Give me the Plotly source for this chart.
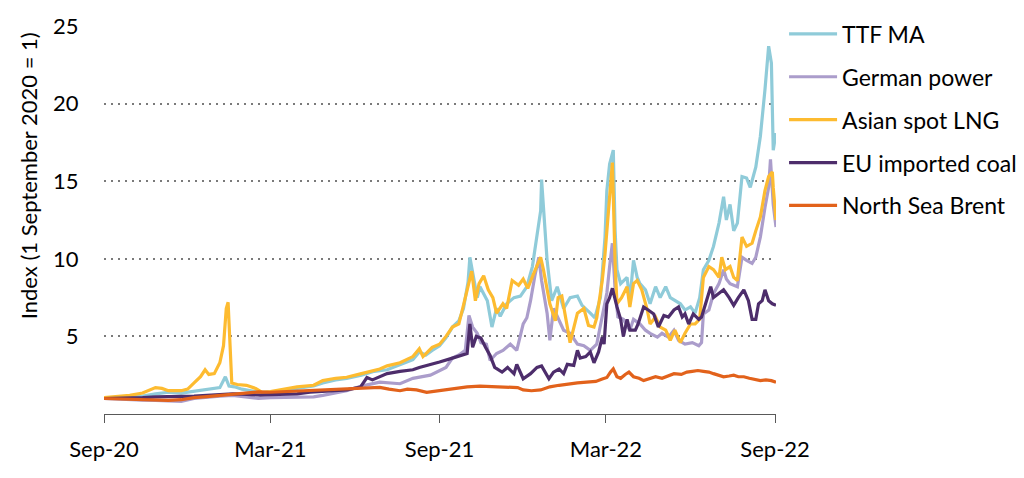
import pandas as pd
import plotly.graph_objects as go

START = "2020-09-01"

# ---- data: (days since 1 Sep 2020, index value) per series ----
ttf_days = [0, 14, 28, 42, 56, 70, 84, 98, 112, 126, 132, 136, 142, 150, 160, 170, 181,
            195, 210, 228, 238, 252, 264, 280, 294, 308, 322, 336, 343, 350, 357, 365, 372, 379, 386, 391, 396,
            398, 406, 409, 417, 422, 427, 431, 438, 446, 453, 460, 466, 471, 475, 476, 479, 482, 487, 493,
            500, 507, 515, 520, 529, 534, 540, 545, 547, 550, 554, 556, 558, 562, 569, 572, 576, 580, 583,
            589, 594, 600, 605, 611, 616, 621, 627, 632, 638, 643, 648, 652, 658, 663, 669, 674, 677, 681,
            685, 689, 694, 699, 703, 709, 714, 719, 723, 726, 728, 731]
ttf_vals = [1.0, 1.05, 1.1, 1.15, 1.3, 1.4, 1.35, 1.45, 1.55, 1.7, 2.4, 1.8, 1.75, 1.6, 1.5, 1.4, 1.4,
            1.5, 1.65, 1.8, 2.0, 2.2, 2.3, 2.5, 2.75, 2.85, 3.15, 3.5, 4.0, 3.8, 4.1, 4.4, 4.9, 5.6, 6.0, 6.8, 8.5,
            10.1, 7.5, 8.2, 7.3, 5.6, 6.8, 6.3, 7.1, 7.5, 7.6, 8.2, 9.5, 11.4, 13.1, 15.1, 12.5, 9.9, 7.3, 8.2,
            6.8, 7.5, 7.6, 7.0, 6.5, 6.2, 7.5, 11.4, 14.4, 16.1, 17.0, 11.8, 9.3, 8.4, 8.8, 7.3, 9.9, 8.8, 8.4,
            8.0, 7.1, 8.2, 7.5, 8.2, 7.5, 7.3, 7.1, 6.7, 6.9, 6.5, 7.5, 9.3, 9.9, 10.8, 12.3, 14.0, 12.5, 13.5,
            11.8, 12.3, 15.3, 15.2, 14.6, 15.9, 17.9, 20.9, 23.7, 22.6, 17.0, 18.1]

power_days = [0, 14, 28, 42, 56, 70, 84, 98, 112, 126, 140, 154, 168, 181,
              195, 210, 228, 238, 252, 264, 280, 300, 322, 336, 355, 365, 372, 379, 386, 393,
              397, 401, 406, 410, 416, 420, 427, 434, 442, 449, 456, 460, 464, 469, 473, 476, 482, 485,
              489, 493, 500, 507, 515, 522, 529, 536, 542, 547, 550, 553, 556, 559, 565, 572, 576, 583,
              589, 594, 602, 607, 614, 620, 625, 632, 640, 647, 650, 652, 658, 663, 669, 674, 677, 681,
              689, 694, 699, 705, 709, 714, 719, 723, 725, 728, 731]
power_vals = [1.0, 0.95, 0.95, 0.9, 0.88, 0.85, 0.82, 1.0, 1.1, 1.15, 1.2, 1.1, 1.0, 1.05,
              1.05, 1.08, 1.1, 1.2, 1.35, 1.5, 1.8, 2.05, 1.95, 2.3, 2.5, 2.8, 3.0, 3.6, 3.8, 4.1,
              6.35, 5.6, 5.2, 4.6, 4.5, 3.45, 3.9, 4.1, 4.5, 4.1, 5.8, 6.2, 7.3, 9.0, 10.1, 8.6, 6.5, 4.75,
              6.8, 6.3, 5.4, 5.2, 4.5, 4.4, 4.1, 4.5, 6.2, 7.8, 9.5, 11.0, 8.0, 6.25, 6.1, 5.4, 6.1, 5.8,
              5.4, 5.2, 4.95, 5.2, 4.95, 5.4, 4.75, 4.5, 4.6, 4.4, 4.6, 6.45, 6.7, 7.75, 8.4, 9.3, 8.7, 8.4,
              8.2, 10.1, 9.9, 9.7, 10.1, 11.4, 13.3, 14.6, 16.4, 13.5, 12.05]

lng_days = [0, 14, 28, 42, 56, 63, 70, 84, 91, 98, 105, 110, 114, 120, 126, 130, 133, 135, 137, 139,
            145, 155, 165, 172, 181, 195, 210, 228, 238, 252, 264, 280, 300, 308, 322, 336, 343, 347, 357,
            365, 372, 379, 386, 391, 396, 400, 404, 408, 413, 418, 423, 427, 434, 438, 444, 451, 456, 461,
            467, 471, 475, 478, 485, 491, 494, 498, 504, 507, 515, 522, 527, 533, 536, 542, 545, 549, 553,
            556, 558, 563, 569, 572, 576, 580, 585, 591, 594, 600, 605, 611, 616, 621, 627, 632, 638, 643,
            648, 652, 658, 663, 669, 672, 676, 681, 685, 689, 694, 699, 705, 709, 714, 719, 723, 727, 728, 731]
lng_vals = [1.05, 1.1, 1.2, 1.35, 1.7, 1.65, 1.5, 1.5, 1.6, 2.0, 2.4, 2.85, 2.55, 2.6, 3.3, 4.4, 6.8, 7.2, 5.0, 2.0,
            1.9, 1.85, 1.65, 1.4, 1.45, 1.6, 1.75, 1.85, 2.15, 2.3, 2.37, 2.6, 2.9, 3.1, 3.3, 3.7, 4.2, 3.7, 4.3,
            4.5, 5.0, 5.6, 5.8, 7.0, 8.3, 9.2, 7.3, 8.4, 8.9, 8.0, 7.5, 6.5, 7.1, 6.8, 8.6, 8.3, 8.7, 8.1,
            9.0, 9.6, 10.1, 9.3, 7.1, 6.0, 7.5, 7.6, 5.4, 4.6, 6.5, 6.8, 5.7, 5.6, 6.2, 8.6, 10.3, 13.5, 16.2,
            9.7, 7.1, 7.5, 8.2, 6.9, 8.4, 8.6, 8.0, 6.7, 5.8, 6.25, 5.6, 5.4, 4.75, 5.4, 4.6, 5.2, 5.8, 5.8,
            6.1, 8.8, 9.5, 9.3, 8.8, 10.1, 9.3, 9.5, 8.8, 8.6, 11.4, 10.8, 11.0, 11.8, 12.7, 14.4, 15.3, 15.6, 14.6, 12.5]

coal_days = [0, 14, 28, 42, 56, 70, 84, 98, 112, 126, 140, 150, 160, 170, 181,
             195, 210, 224, 238, 252, 264, 279, 286, 292, 308, 322, 336, 343, 357, 365, 379, 390, 395,
             398, 401, 405, 410, 415, 420, 425, 433, 439, 446, 449, 456, 464, 471, 476, 484, 489, 495,
             500, 504, 511, 515, 518, 524, 529, 533, 538, 542, 544, 547, 550, 553, 558, 562, 565, 569,
             572, 578, 581, 587, 592, 598, 603, 609, 614, 620, 625, 629, 632, 636, 641, 647, 650, 654,
             660, 663, 669, 674, 680, 685, 690, 696, 701, 705, 709, 712, 716, 719, 723, 727, 731]
coal_vals = [1.0, 1.0, 1.02, 1.05, 1.1, 1.12, 1.1, 1.15, 1.2, 1.25, 1.3, 1.28, 1.25, 1.22, 1.25,
             1.25, 1.3, 1.4, 1.45, 1.5, 1.55, 1.73, 2.35, 2.2, 2.6, 2.75, 2.85, 3.0, 3.2, 3.35, 3.6, 3.8, 3.9,
             5.8, 4.3, 5.0, 4.9, 4.3, 3.77, 3.0, 2.7, 3.0, 2.6, 3.2, 2.27, 2.6, 3.0, 3.1, 2.27, 2.7, 2.9,
             2.6, 3.2, 3.13, 4.1, 3.6, 3.7, 4.0, 3.3, 4.0, 4.95, 4.5, 7.1, 7.5, 8.1, 6.9, 6.1, 5.0, 6.1,
             5.4, 5.4, 5.8, 6.9, 6.7, 6.45, 5.6, 6.35, 6.25, 6.7, 6.9, 6.25, 6.45, 5.8, 6.45, 6.1, 6.25, 7.1,
             8.2, 7.5, 7.75, 8.0, 7.5, 7.0, 7.5, 8.0, 7.3, 6.1, 6.1, 7.1, 7.3, 8.0, 7.3, 7.1, 7.0]

brent_days = [0, 14, 28, 42, 56, 70, 84, 98, 112, 126, 140, 154, 168, 181,
              200, 225, 249, 270, 286, 300, 310, 322, 330, 340, 351, 358, 366, 380, 395, 409,
              425, 440, 450, 456, 465, 475, 485, 495, 505, 515, 525, 535, 542, 547, 551, 554, 558, 562,
              567, 571, 576, 582, 587, 594, 600, 607, 614, 620, 628, 634, 640, 646, 652, 658, 663, 669,
              674, 680, 685, 690, 696, 702, 708, 714, 720, 726, 731]
brent_vals = [1.0, 0.98, 0.97, 0.95, 0.9, 0.88, 0.92, 1.05, 1.12, 1.2, 1.3, 1.35, 1.42, 1.4,
              1.45, 1.5, 1.6, 1.65, 1.65, 1.72, 1.6, 1.5, 1.6, 1.55, 1.4, 1.45, 1.5, 1.65, 1.75, 1.8,
              1.78, 1.75, 1.7, 1.55, 1.5, 1.55, 1.75, 1.85, 1.95, 2.0, 2.05, 2.1, 2.25, 2.35, 2.7, 2.9, 2.4, 2.3,
              2.55, 2.7, 2.4, 2.3, 2.15, 2.3, 2.4, 2.3, 2.45, 2.6, 2.55, 2.7, 2.75, 2.8, 2.75, 2.7, 2.6, 2.5,
              2.4, 2.45, 2.5, 2.4, 2.4, 2.3, 2.2, 2.15, 2.2, 2.15, 2.05]

series_names = ["TTF MA", "German power", "Asian spot LNG", "EU imported coal", "North Sea Brent"]
series_colors = ["#8fcbd9", "#ab9dcb", "#fdbb30", "#4d2d6b", "#e2621b"]
series_data = [(ttf_days, ttf_vals), (power_days, power_vals), (lng_days, lng_vals),
               (coal_days, coal_vals), (brent_days, brent_vals)]

x_tick_vals = ["2020-09-01", "2021-03-01", "2021-09-01", "2022-03-01", "2022-09-01"]
x_tick_text = ["Sep-20", "Mar-21", "Sep-21", "Mar-22", "Sep-22"]
y_tick_vals = [5, 10, 15, 20, 25]

FONT = "Lato"
FS = 22
fig = go.Figure()
start = pd.Timestamp(START)
for name, color, (days, vals) in zip(series_names, series_colors, series_data):
    dates = start + pd.to_timedelta(days, unit="D")
    fig.add_trace(go.Scatter(x=dates, y=vals, mode="lines", name=name, legendgroup=name,
                             line=dict(color=color, width=3.2)))

fig.update_layout(
    width=1024, height=478,
    margin=dict(l=96, r=256, t=18, b=72, autoexpand=False),
    paper_bgcolor="white", plot_bgcolor="white",
    font=dict(family=FONT, size=FS, color="#000000"),
    showlegend=True,
    legend=dict(x=1.012, y=1.035, xanchor="left", yanchor="top",
                font=dict(family=FONT, size=23, color="#000000"),
                itemwidth=48, tracegroupgap=10, bgcolor="rgba(0,0,0,0)"),
    xaxis=dict(type="date", range=["2020-09-01", "2022-09-02"],
               tickvals=x_tick_vals, ticktext=x_tick_text,
               showgrid=False, zeroline=False,
               showline=True, linecolor="#595959", linewidth=1,
               ticks="outside", ticklen=8, tickcolor="#595959", tickwidth=1,
               ticklabelstandoff=8,
               tickfont=dict(family=FONT, size=FS, color="#000000")),
    yaxis=dict(range=[0, 25], tickvals=y_tick_vals,
               showgrid=True, gridcolor="#7a7a7a", griddash="2px,5px", gridwidth=2,
               zeroline=False, showline=False,
               ticks="outside", ticklen=20, tickcolor="rgba(0,0,0,0)",
               tickfont=dict(family=FONT, size=FS, color="#000000")),
    annotations=[dict(text="Index (1 September 2020 = 1)", textangle=-90,
                      xref="paper", yref="paper", x=-0.113, y=0.613,
                      xanchor="center", yanchor="middle", showarrow=False,
                      font=dict(family=FONT, size=FS, color="#000000"))],
)

fig.write_html("out.html")
